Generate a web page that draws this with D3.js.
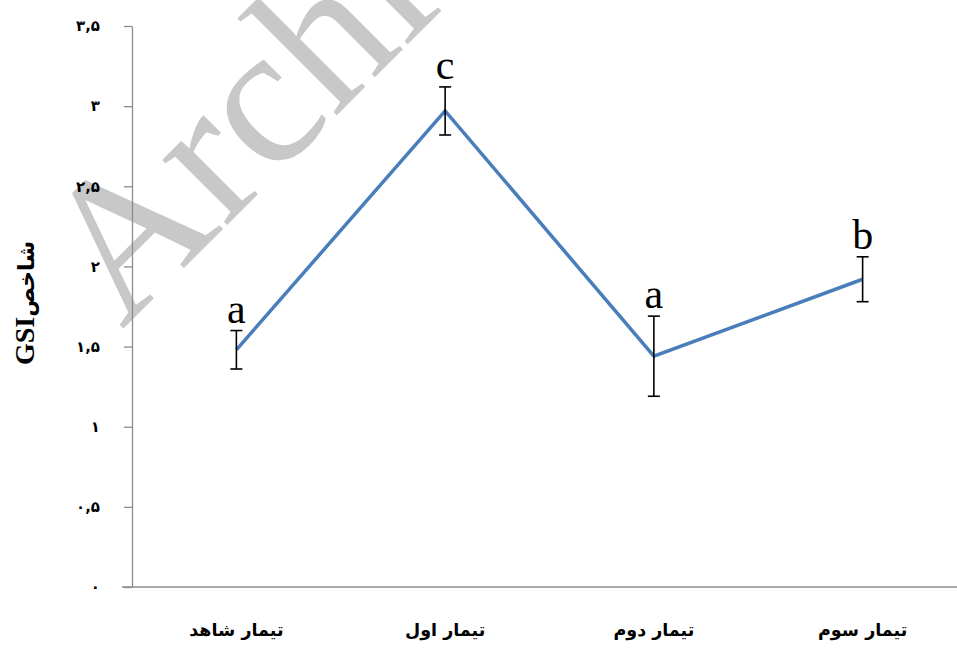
<!DOCTYPE html>
<html>
<head>
<meta charset="utf-8">
<script src="https://cdn.jsdelivr.net/npm/d3@7"></script>
<style>
  html, body { margin: 0; padding: 0; background: #fff; }
  svg { display: block; }
</style>
</head>
<body>
<svg id="chart" width="957" height="648"></svg>
<script>
// Treatments (x categories)
const categories = ["تیمار شاهد", "تیمار اول", "تیمار دوم", "تیمار سوم"];
// Mean GSI per treatment
const gsiMeans = [1.48, 2.97, 1.44, 1.92];
// Error bar half-length per treatment
const gsiErrors = [0.12, 0.15, 0.25, 0.14];
// Significance letters
const groupLetters = ["a", "c", "a", "b"];
// Y ticks and their Persian labels
const yTicks = [0, 0.5, 1, 1.5, 2, 2.5, 3, 3.5];
const yTickLabels = ["۰", "۰,۵", "۱", "۱,۵", "۲", "۲,۵", "۳", "۳,۵"];

const svg = d3.select("#chart");
const plot = { left: 132, right: 967, top: 26, bottom: 587 };

const x = d3.scaleBand().domain(categories).range([plot.left, plot.right]);
const y = d3.scaleLinear().domain([0, 3.5]).range([plot.bottom, plot.top]);
const cx = c => x(c) + x.bandwidth() / 2;

// Watermark
svg.append("text")
  .attr("transform", "translate(122,330) rotate(-45)")
  .attr("font-family", "'Liberation Serif', 'Times New Roman', serif")
  .attr("font-size", 200)
  .attr("fill", "#c8c8c8")
  .text("Archive");

// Y axis
const yAxis = d3.axisLeft(y)
  .tickValues(yTicks)
  .tickFormat((d, i) => yTickLabels[i])
  .tickSizeInner(8)
  .tickSizeOuter(0)
  .tickPadding(24);
const gy = svg.append("g")
  .attr("transform", `translate(${plot.left},0)`)
  .call(yAxis);
gy.select(".domain").attr("stroke", "#8c8c8c").attr("stroke-width", 1.3);
gy.selectAll(".tick line").attr("stroke", "#8c8c8c").attr("stroke-width", 1.3);
gy.selectAll(".tick text")
  .attr("font-family", "'DejaVu Sans', sans-serif")
  .attr("font-weight", "bold")
  .attr("font-size", 15)
  .attr("fill", "#000");

// X axis (no tick marks, labels below)
const xAxis = d3.axisBottom(x).tickSize(0).tickPadding(37);
const gx = svg.append("g")
  .attr("transform", `translate(0,${plot.bottom})`)
  .call(xAxis);
gx.select(".domain").attr("stroke", "#8c8c8c").attr("stroke-width", 1.3)
  .attr("d", `M${plot.left - 10},0H${plot.right}`);
gx.selectAll(".tick text")
  .attr("font-family", "'DejaVu Sans', sans-serif")
  .attr("font-weight", "bold")
  .attr("font-size", 17.5)
  .attr("fill", "#000");

// Y axis title
const yTitle = svg.append("text")
  .attr("transform", "translate(34,303) rotate(-90)")
  .attr("text-anchor", "middle")
  .attr("font-weight", "bold")
  .attr("fill", "#000");
yTitle.append("tspan")
  .attr("font-family", "'Liberation Serif', 'Times New Roman', serif")
  .attr("font-size", 28)
  .text("GSI");
yTitle.append("tspan")
  .attr("font-family", "'DejaVu Sans', sans-serif")
  .attr("font-size", 22)
  .text("شاخص");

// Mean line
const line = d3.line()
  .x((d, i) => cx(categories[i]))
  .y(d => y(d));
svg.append("path")
  .datum(gsiMeans)
  .attr("d", line)
  .attr("fill", "none")
  .attr("stroke", "#4a7ebb")
  .attr("stroke-width", 3.5)
  .attr("stroke-linejoin", "miter");

// Error bars
const eb = svg.append("g").attr("stroke", "#000").attr("stroke-width", 1.6);
gsiMeans.forEach((m, i) => {
  const px = cx(categories[i]);
  const lo = y(m - gsiErrors[i]), hi = y(m + gsiErrors[i]);
  eb.append("line").attr("x1", px).attr("x2", px).attr("y1", hi).attr("y2", lo);
  eb.append("line").attr("x1", px - 6).attr("x2", px + 6).attr("y1", hi).attr("y2", hi);
  eb.append("line").attr("x1", px - 6).attr("x2", px + 6).attr("y1", lo).attr("y2", lo);
});

// Significance letters
svg.append("g").selectAll("text")
  .data(gsiMeans)
  .join("text")
  .attr("x", (d, i) => cx(categories[i]))
  .attr("y", (d, i) => y(d + gsiErrors[i]) - 8)
  .attr("text-anchor", "middle")
  .attr("font-family", "'Liberation Serif', 'Times New Roman', serif")
  .attr("font-size", 42)
  .attr("fill", "#000")
  .text((d, i) => groupLetters[i]);
</script>
</body>
</html>
